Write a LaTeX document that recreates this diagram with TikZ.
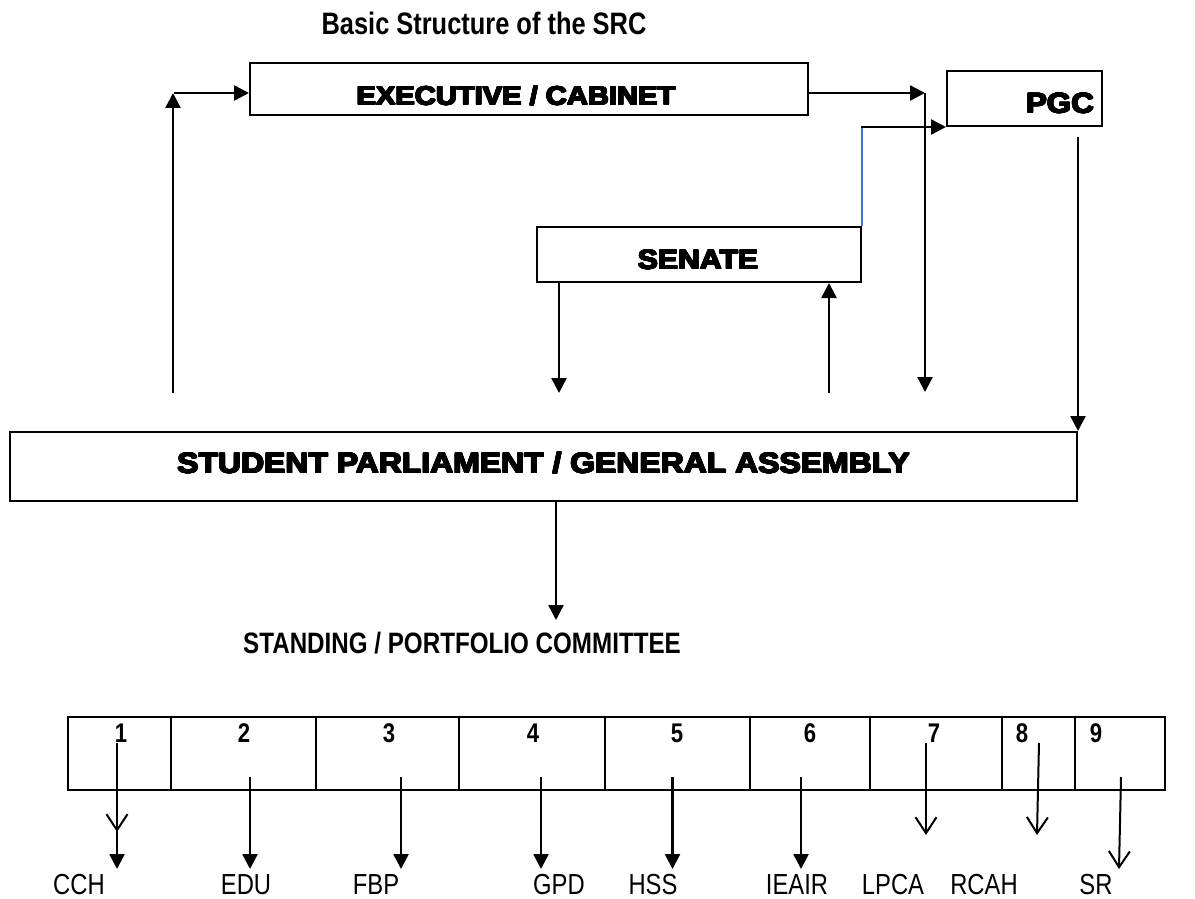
\documentclass[tikz,border=0pt]{standalone}
\usepackage{fontspec}
\usepackage{contour}
\contourlength{0.7pt}
\contournumber{16}
\setmainfont{Liberation Sans}
\newfontfamily\narrowfont[FakeStretch=0.82]{Liberation Sans}
\newfontfamily\widefont[FakeStretch=1.12]{Liberation Sans}
\usetikzlibrary{arrows.meta}
\definecolor{linkblue}{HTML}{4472C4}
\newcommand{\heavytext}[1]{\contour{black}{#1}}
\begin{document}
\begin{tikzpicture}[x=1pt,y=-1pt,
  box/.style={draw, line width=2pt, inner sep=0pt},
  arr/.style={line width=2.5pt, -{Triangle[width=15pt,length=15pt]}},
  varr/.style={line width=2pt, -{Straight Barb[width=21pt,length=16pt,line width=2pt]}},
  boxtext/.style={inner sep=0pt, anchor=base, font=\widefont\bfseries\fontsize{#1}{#1}\selectfont},
  heading/.style={inner sep=0pt, anchor=base, font=\narrowfont\bfseries\fontsize{#1}{#1}\selectfont},
  lbl/.style={inner sep=0pt, anchor=base, font=\narrowfont\fontsize{29}{29}\selectfont},
  num/.style={inner sep=0pt, anchor=base, font=\narrowfont\bfseries\fontsize{27}{27}\selectfont}]
\useasboundingbox (0,0) rectangle (1195,899);

% title
\node[heading=31] (title) at (484,35) {Basic Structure of the SRC};

% boxes
\node[box, minimum width=558pt, minimum height=52pt] (exec) at (529,89) {};
\node[boxtext=26] (exectxt) at (516,105) {\heavytext{EXECUTIVE / CABINET}};
\node[box, minimum width=155pt, minimum height=55pt] (pgc) at (1024.5,98.5) {};
\node[boxtext=28] (pgctxt) at (1060,113) {\heavytext{PGC}};
\node[box, minimum width=324pt, minimum height=55pt] (senate) at (699,254.5) {};
\node[boxtext=27] (senatetxt) at (698,269) {\heavytext{SENATE}};
\node[box, minimum width=1067pt, minimum height=69pt] (student) at (543.5,466.5) {};
\node[boxtext=28.5] (studenttxt) at (543.5,473) {\heavytext{STUDENT PARLIAMENT / GENERAL ASSEMBLY}};
\node[heading=29.5] (standing) at (462,653) {STANDING / PORTFOLIO COMMITTEE};

% connectors, upper part
\coordinate (l1) at (173,393);
\coordinate (l2) at (173,93);
\draw[arr] (l1) -- (l2);
\draw[arr] ([xshift=1pt]l2) -- (l2 -| exec.west);
\coordinate (r1) at (925,93);
\coordinate (r2) at (925,392);
\draw[arr] (r1 -| exec.east) -- (r1);
\draw[arr] (r1) -- (r2);
\coordinate (p1) at (senate.north east |- pgc.south west);
\draw[line width=1.6pt, linkblue] (senate.north east) -- (p1);
\draw[arr] ([xshift=-1pt]p1) -- (pgc.south west);
\coordinate (s1) at (559,393);
\draw[arr] (senate.south -| s1) -- (s1);
\coordinate (s2) at (829,393);
\draw[arr] (s2) -- (s2 |- senate.south);
\coordinate (g1) at (1078,137);
\draw[arr] (g1) -- (g1 |- student.north);
\coordinate (c1) at (556,620);
\draw[arr] (c1 |- student.south) -- (c1);

% committee table
\draw[line width=2pt] (68,717) rectangle (1165,790);
\foreach \x in {171,316,459,605,750,870,1002,1075}
  \draw[line width=2pt] (\x,717) -- (\x,790);
\foreach \n/\x in {1/121,2/244,3/389,4/533,5/677,6/810,7/934,8/1022,9/1096}
  \node[num] (n\n) at (\x,742) {\n};

% committee arrows
\coordinate (t1a) at (117,743); \coordinate (t1b) at (117,832);
\draw[varr] (t1a) -- (t1b);
\coordinate (t1c) at (117,777); \coordinate (t1d) at (117,869);
\draw[arr] (t1c) -- (t1d);
\foreach \k/\x in {2/250,3/401,4/541,5/672.5,6/801}{
  \coordinate (t\k a) at (\x,777); \coordinate (t\k b) at (\x,869);
  \draw[arr] (t\k a) -- (t\k b);
}
\coordinate (t7a) at (926,743); \coordinate (t7b) at (926,835);
\draw[varr] (t7a) -- (t7b);
\coordinate (t8a) at (1039,743); \coordinate (t8b) at (1037,835);
\draw[varr] (t8a) -- (t8b);
\coordinate (t9a) at (1121,777); \coordinate (t9b) at (1119,869);
\draw[varr] (t9a) -- (t9b);

% labels
\node[lbl] (cch) at (79,894) {CCH};
\node[lbl] (edu) at (246,894) {EDU};
\node[lbl] (fbp) at (376,894) {FBP};
\node[lbl] (gpd) at (559,894) {GPD};
\node[lbl] (hss) at (653,894) {HSS};
\node[lbl] (ieair) at (797,894) {IEAIR};
\node[lbl] (lpca) at (893,894) {LPCA};
\node[lbl] (rcah) at (984,894) {RCAH};
\node[lbl] (sr) at (1096,894) {SR};
\end{tikzpicture}
\end{document}
